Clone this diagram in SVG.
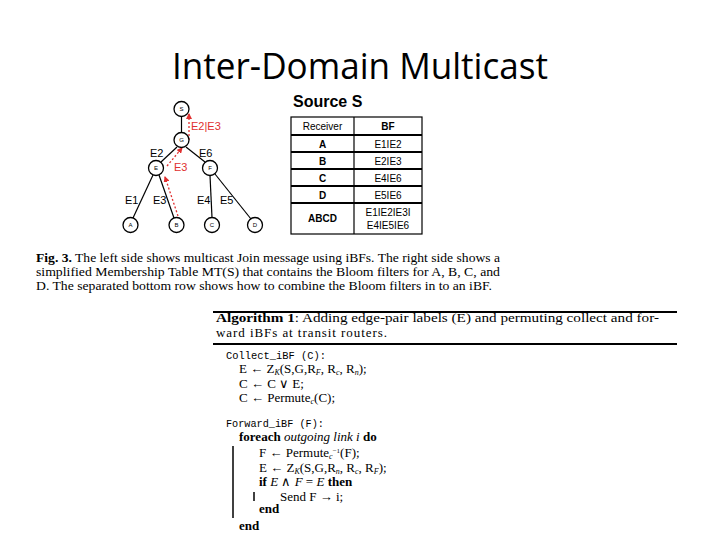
<svg xmlns="http://www.w3.org/2000/svg" width="720" height="540" viewBox="0 0 720 540">
<defs>
<marker id="rarrow" markerWidth="6" markerHeight="6" refX="5" refY="3" orient="auto" markerUnits="userSpaceOnUse">
<path d="M0,0 L6,3 L0,6 Z" fill="#e03030"/>
</marker>
<style>
.title{font-family:"Open Sans","Liberation Sans",sans-serif;font-size:36px;fill:#000}
.node circle{fill:#fff;stroke:#000;stroke-width:1.3}
.node text{font-family:"Liberation Sans",sans-serif;font-size:6px;text-anchor:middle;fill:#000}
.edge{stroke:#000;stroke-width:1.2}
.red{stroke:#e03030;stroke-width:1.3;stroke-dasharray:2,2;fill:none}
.lbl{font-family:"Liberation Sans",sans-serif;font-size:11px;fill:#000}
.rlbl{font-family:"Liberation Sans",sans-serif;font-size:11px;fill:#e03030}
.tb{font-family:"Liberation Sans",sans-serif;font-size:10px;text-anchor:middle;fill:#000}
.cap{font-family:"Liberation Serif",serif;font-size:12.5px;fill:#000}
.alg{font-family:"Liberation Serif",serif;font-size:13px;fill:#000}
.mono{font-family:"Liberation Mono",monospace;font-size:10.5px;fill:#000}
.sub{font-size:8px;font-style:italic}
.bar{stroke:#000;stroke-width:1.5}
</style>
</defs>
<rect width="720" height="540" fill="#fff"/>
<text class="title" x="172" y="79" textLength="376" lengthAdjust="spacingAndGlyphs">Inter-Domain Multicast</text>

<g id="connectors">
<line class="edge" x1="181.5" y1="116.5" x2="181.5" y2="132.5"/>
<line class="edge" x1="177" y1="147" x2="161" y2="162"/>
<line class="edge" x1="186" y1="147" x2="205" y2="162"/>
<line class="edge" x1="153" y1="175" x2="133" y2="218"/>
<line class="edge" x1="159" y1="175" x2="174" y2="218"/>
<line class="edge" x1="210" y1="175.5" x2="212" y2="217.5"/>
<line class="edge" x1="215" y1="174" x2="251" y2="219"/>
<line class="red" x1="189" y1="140" x2="189" y2="114" marker-end="url(#rarrow)"/>
<line class="red" x1="167" y1="166" x2="182" y2="148" marker-end="url(#rarrow)"/>
<line class="red" x1="178" y1="216" x2="165" y2="177" marker-end="url(#rarrow)"/>
</g>

<g id="node-S" class="node"><circle cx="181.5" cy="109" r="7.5"/><text x="181.5" y="111">S</text></g>
<g id="node-G" class="node"><circle cx="181.5" cy="140" r="7.5"/><text x="181.5" y="142">G</text></g>
<g id="node-E" class="node"><circle cx="156" cy="168" r="7.5"/><text x="156" y="170">E</text></g>
<g id="node-F" class="node"><circle cx="210" cy="168" r="7.5"/><text x="210" y="170">F</text></g>
<g id="node-A" class="node"><circle cx="130.5" cy="225" r="7.5"/><text x="130.5" y="227">A</text></g>
<g id="node-B" class="node"><circle cx="176.5" cy="225" r="7.5"/><text x="176.5" y="227">B</text></g>
<g id="node-C" class="node"><circle cx="212" cy="225" r="7.5"/><text x="212" y="227">C</text></g>
<g id="node-D" class="node"><circle cx="255" cy="225" r="7.5"/><text x="255" y="227">D</text></g>

<g id="edge-labels">
<text class="rlbl" x="191" y="130">E2|E3</text>
<text class="rlbl" x="174" y="171">E3</text>
<text class="lbl" x="150" y="157">E2</text>
<text class="lbl" x="199" y="157">E6</text>
<text class="lbl" x="125" y="204">E1</text>
<text class="lbl" x="153" y="204">E3</text>
<text class="lbl" x="197" y="204">E4</text>
<text class="lbl" x="220" y="204">E5</text>
</g>

<g id="table">
<text x="293" y="107" font-family="Liberation Sans, sans-serif" font-size="16" font-weight="bold">Source S</text>
<rect x="291" y="117" width="131" height="117" fill="none" stroke="#000" stroke-width="1.2"/>
<line x1="354" y1="117" x2="354" y2="234" stroke="#000" stroke-width="1.2"/>
<g stroke="#000" stroke-width="1.8">
<line x1="291" y1="135" x2="422" y2="135"/>
<line x1="291" y1="152" x2="422" y2="152"/>
<line x1="291" y1="169" x2="422" y2="169"/>
<line x1="291" y1="186" x2="422" y2="186"/>
<line x1="291" y1="203" x2="422" y2="203"/>
</g>
<text class="tb" x="322.5" y="130">Receiver</text>
<text class="tb" x="388" y="130" font-weight="bold">BF</text>
<text class="tb" x="322.5" y="148" font-weight="bold">A</text>
<text class="tb" x="388" y="148">E1IE2</text>
<text class="tb" x="322.5" y="165" font-weight="bold">B</text>
<text class="tb" x="388" y="165">E2IE3</text>
<text class="tb" x="322.5" y="182" font-weight="bold">C</text>
<text class="tb" x="388" y="182">E4IE6</text>
<text class="tb" x="322.5" y="199" font-weight="bold">D</text>
<text class="tb" x="388" y="199">E5IE6</text>
<text class="tb" x="322.5" y="222" font-weight="bold">ABCD</text>
<text class="tb" x="388" y="216">E1IE2IE3I</text>
<text class="tb" x="388" y="229">E4IE5IE6</text>
</g>

<g id="caption">
<text class="cap" x="36" y="262" textLength="464" lengthAdjust="spacingAndGlyphs"><tspan font-weight="bold">Fig. 3.</tspan> The left side shows multicast Join message using iBFs. The right side shows a</text>
<text class="cap" x="36" y="276" textLength="464" lengthAdjust="spacingAndGlyphs">simplified Membership Table MT(S) that contains the Bloom filters for A, B, C, and</text>
<text class="cap" x="36" y="290" textLength="456" lengthAdjust="spacingAndGlyphs">D. The separated bottom row shows how to combine the Bloom filters in to an iBF.</text>
</g>

<g id="algorithm">
<line x1="213" y1="312" x2="677" y2="312" stroke="#000" stroke-width="2"/>
<line x1="213" y1="344" x2="677" y2="344" stroke="#000" stroke-width="2"/>
<text class="alg" x="216" y="322" textLength="443" lengthAdjust="spacingAndGlyphs"><tspan font-weight="bold">Algorithm 1</tspan>: Adding edge-pair labels (E) and permuting collect and for-</text>
<text class="alg" x="216" y="337" textLength="171" lengthAdjust="spacing">ward iBFs at transit routers.</text>
<text class="mono" x="226" y="359" textLength="100" lengthAdjust="spacingAndGlyphs">Collect_iBF (C):</text>
<text class="alg" x="239" y="373">E ← Z<tspan class="sub" dy="1.5">K</tspan><tspan dy="-1.5">(S,G,R</tspan><tspan class="sub" dy="1.5">F</tspan><tspan dy="-1.5">, R</tspan><tspan class="sub" dy="1.5">c</tspan><tspan dy="-1.5">, R</tspan><tspan class="sub" dy="1.5">n</tspan><tspan dy="-1.5">);</tspan></text>
<text class="alg" x="239" y="388">C ← C ∨ E;</text>
<text class="alg" x="239" y="402">C ← Permute<tspan class="sub" dy="1.5">c</tspan><tspan dy="-1.5">(C);</tspan></text>
<text class="mono" x="226" y="427" textLength="98" lengthAdjust="spacingAndGlyphs">Forward_iBF (F):</text>
<text class="alg" x="239" y="441"><tspan font-weight="bold">foreach</tspan> <tspan font-style="italic">outgoing link i</tspan> <tspan font-weight="bold">do</tspan></text>
<line class="bar" x1="233" y1="446" x2="233" y2="518"/>
<text class="alg" x="259" y="457">F ← Permute<tspan class="sub" dy="1.5">c</tspan><tspan font-size="7" dy="-6">−1</tspan><tspan dy="4.5">(F);</tspan></text>
<text class="alg" x="259" y="472">E ← Z<tspan class="sub" dy="1.5">K</tspan><tspan dy="-1.5">(S,G,R</tspan><tspan class="sub" dy="1.5">n</tspan><tspan dy="-1.5">, R</tspan><tspan class="sub" dy="1.5">c</tspan><tspan dy="-1.5">, R</tspan><tspan class="sub" dy="1.5">F</tspan><tspan dy="-1.5">);</tspan></text>
<text class="alg" x="259" y="486"><tspan font-weight="bold">if</tspan> <tspan font-style="italic">E</tspan> ∧ <tspan font-style="italic">F</tspan> = <tspan font-style="italic">E</tspan> <tspan font-weight="bold">then</tspan></text>
<line class="bar" x1="254" y1="492" x2="254" y2="501"/>
<text class="alg" x="280" y="501">Send F → i;</text>
<text class="alg" x="259" y="513" font-weight="bold">end</text>
<text class="alg" x="239" y="530" font-weight="bold">end</text>
</g>
</svg>
